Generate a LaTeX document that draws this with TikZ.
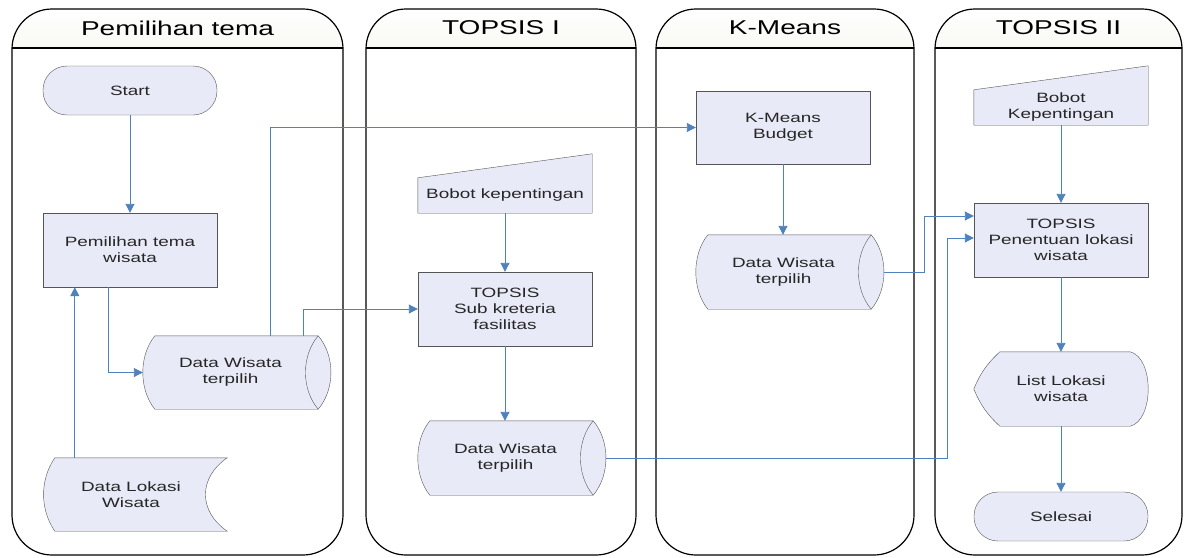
\documentclass[tikz,border=0pt]{standalone}
\usepackage{fontspec}
\setmainfont{Liberation Sans}[FakeStretch=1.4]
\usetikzlibrary{arrows.meta,backgrounds}

\definecolor{lanehead}{RGB}{236,236,222}
\definecolor{boxfill}{RGB}{232,235,247}
\definecolor{boxline}{RGB}{85,85,85}
\definecolor{flowblue}{RGB}{79,129,189}

\tikzset{
  lane/.style={draw=black, line width=1.2pt},
  lanetitle/.style={font=\fontsize{20}{24}\selectfont},
  shapetext/.style={inner sep=0pt, align=center, text=black!85, font=\fontsize{13.5}{16}\selectfont},
  proc/.style={shapetext, draw=boxline, fill=boxfill, minimum width=174pt, minimum height=74pt},
  term/.style={proc, rounded corners=24pt, minimum height=49pt},
  outline/.style={draw=boxline, fill=boxfill},
  flow/.style={draw=flowblue, line width=0.9pt, -{Triangle[length=9pt,width=9pt]}}
}

\begin{document}
\begin{tikzpicture}[x=1pt, y=1pt]
  \useasboundingbox (0,0) rectangle (1186,-557);

  % swimlanes
  \foreach \xa/\xb/\title [count=\i] in {12/343/Pemilihan tema, 366/636/TOPSIS I, 656/914/K-Means, 935/1182/TOPSIS II}{
    \begin{scope}
      \clip (\xa-2,-4) rectangle (\xb+2,-48);
      \shade[top color=white, bottom color=lanehead, rounded corners=38pt] (\xa,-120) -- (\xa,-9) -- (\xb,-9) -- (\xb,-120) -- cycle;
    \end{scope}
    \draw[lane, rounded corners=40pt] (\xa,-300) -- (\xa,-9) -- (\xb,-9) -- (\xb,-555) -- (\xa,-555) -- cycle;
    \draw[lane] (\xa,-48) -- (\xb,-48);
    \node[lanetitle] (title\i) at ({(\xa+\xb)/2},-28) {\title};
  }

  % Pemilihan tema
  \node[term] (start) at (130,-90.5) {Start};
  \node[proc] (choose) at (130,-250) {Pemilihan tema\\wisata};
  \node[shapetext, minimum width=175pt, minimum height=73pt] (dw1) at (230.5,-372.5) {Data Wisata\\terpilih};
  \node[shapetext, minimum width=174pt, minimum height=73pt] (lokasi) at (131,-494.5) {Data Lokasi\\Wisata};

  % TOPSIS I
  \node[shapetext, minimum width=174pt, minimum height=35pt] (bobot1) at (505,-195.5) {Bobot kepentingan};
  \node[proc] (topsis1) at (505,-309) {TOPSIS\\Sub kreteria\\fasilitas};
  \node[shapetext, minimum width=175pt, minimum height=74pt] (dw2) at (505.5,-458) {Data Wisata\\terpilih};

  % K-Means
  \node[proc, minimum height=73pt] (kmeans) at (783,-127.5) {K-Means\\Budget};
  \node[shapetext, minimum width=175pt, minimum height=74pt] (dw3) at (783.5,-272) {Data Wisata\\terpilih};

  % TOPSIS II
  \node[shapetext, minimum width=174pt, minimum height=35pt] (bobot2) at (1061,-107.5) {Bobot\\Kepentingan};
  \node[proc] (topsis2) at (1061,-240) {TOPSIS\\Penentuan lokasi\\wisata};
  \node[shapetext, minimum width=174pt, minimum height=74pt] (list) at (1061,-389) {List Lokasi\\wisata};
  \node[term] (selesai) at (1061,-516.5) {Selesai};

  % outlines of the flowchart symbols
  \begin{scope}[on background layer]
    \fill[white] (0,0) rectangle (1186,-557);
    \foreach \n in {dw1,dw2,dw3}{
      \filldraw[outline] ([xshift=12pt]\n.south west) .. controls +(-16,20) and +(-16,-20) .. ([xshift=12pt]\n.north west)
        -- (\n.north east) .. controls +(17,-20) and +(17,20) .. (\n.south east) -- cycle;
      \draw[boxline] (\n.north east) .. controls +(-17,-20) and +(-17,20) .. (\n.south east);
    }
    \filldraw[outline] ([xshift=11pt]lokasi.south west) .. controls +(-15,22) and +(-15,-22) .. ([xshift=11pt]lokasi.north west)
      -- ([xshift=9pt]lokasi.north east) .. controls +(-29,-20) and +(-29,20) .. ([xshift=9pt]lokasi.south east) -- cycle;
    \foreach \n in {bobot1,bobot2}
      \filldraw[outline] (\n.south west) -- (\n.north west) -- ([yshift=24pt]\n.north east) -- (\n.south east) -- cycle;
    \filldraw[outline] (list.west) to[bend left=12] ([xshift=26pt]list.north west) -- ([xshift=-18pt]list.north east)
      .. controls +(24,-6) and +(24,6) .. ([xshift=-18pt]list.south east) -- ([xshift=26pt]list.south west)
      to[bend left=12] (list.west) -- cycle;
  \end{scope}

  % connectors
  \coordinate (lk) at ([xshift=31pt]lokasi.north west);
  \coordinate (ch) at ([xshift=-22pt]choose.south);
  \coordinate (d1a) at ([xshift=39.5pt]dw1.north);
  \coordinate (d1b) at ([xshift=72.5pt]dw1.north);
  \coordinate (in1) at ([yshift=24pt]topsis2.west);
  \coordinate (in2) at ([yshift=2pt]topsis2.west);

  \draw[flow] (start) -- (choose);
  \draw[flow] (lk) -- (lk |- choose.south);
  \draw[flow] (ch) |- (dw1.west);
  \draw[flow] (d1a) |- (kmeans.west);
  \draw[flow] (d1b) |- (topsis1.west);
  \draw[flow] (bobot1) -- (topsis1);
  \draw[flow] (topsis1.south) -- (topsis1.south |- dw2.north);
  \draw[flow] (kmeans.south) -- (kmeans.south |- dw3.north);
  \draw[flow] ([xshift=13pt]dw3.east) -| ([xshift=-49pt]in1) -- (in1);
  \draw[flow] ([xshift=13pt]dw2.east) -| ([xshift=-26pt]in2) -- (in2);
  \draw[flow] (bobot2) -- (topsis2);
  \draw[flow] (topsis2) -- (list);
  \draw[flow] (list) -- (selesai);
\end{tikzpicture}
\end{document}
